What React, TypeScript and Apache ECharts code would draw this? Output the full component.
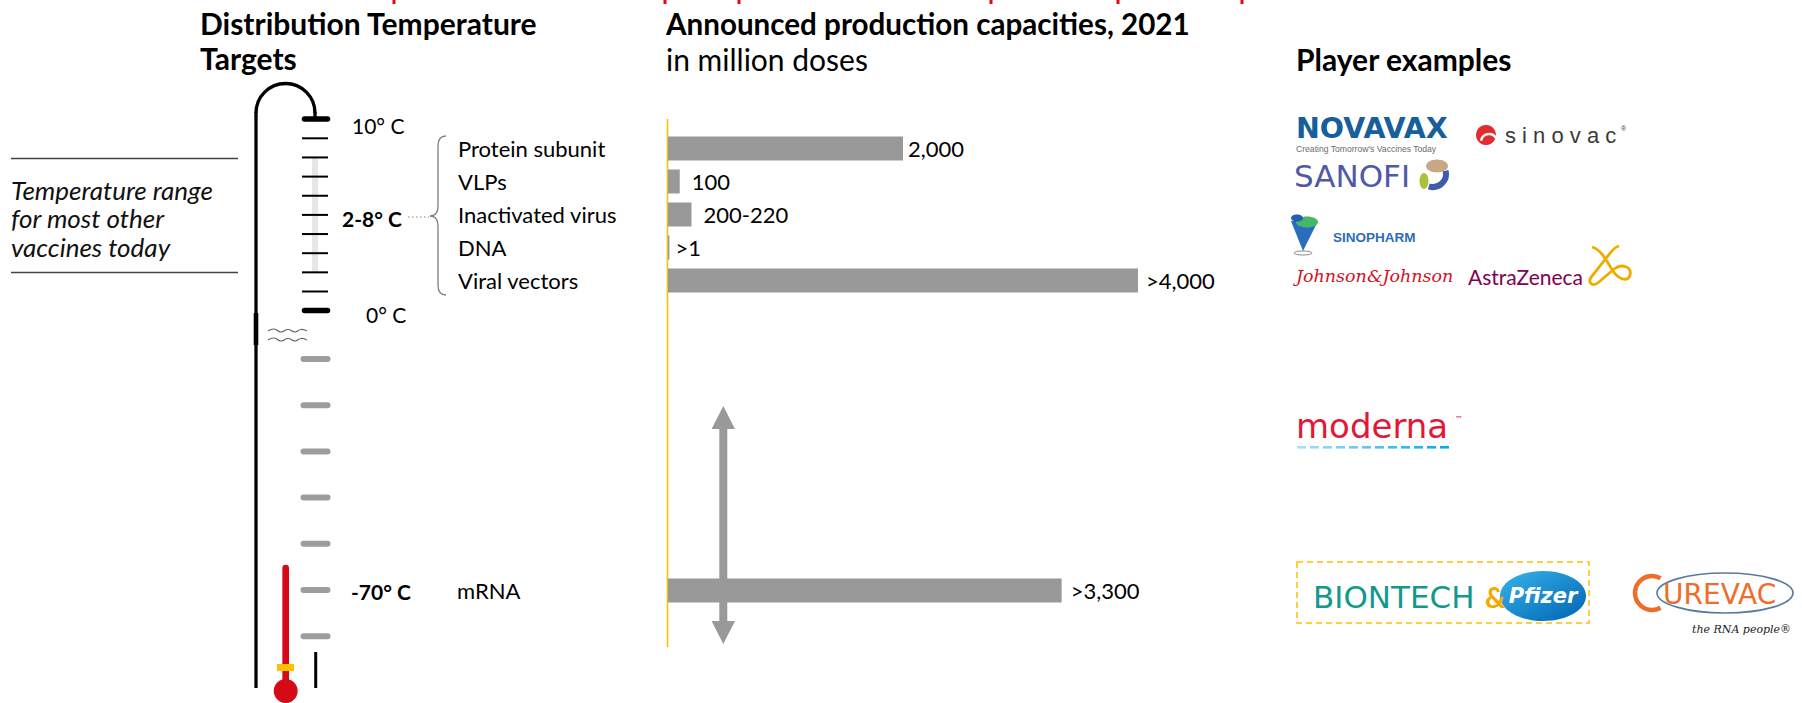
import React, { useEffect, useRef } from "react";
import * as echarts from "echarts";

// ---------- data ----------
const topCategories = ["Protein subunit", "VLPs", "Inactivated virus", "DNA", "Viral vectors"];
const topValues = [2000, 100, 200, 12, 4000];
const topLabels = ["2,000", "100", "200-220", ">1", ">4,000"];
const bottomCategories = ["mRNA"];
const bottomValues = [3350];
const bottomLabels = [">3,300"];
const tempLabels = ["10° C", "2-8° C", "0° C", "-70° C"];
const noteLines = ["Temperature range", "for most other", "vaccines today"];
const headings = ["Distribution Temperature", "Targets", "Announced production capacities, 2021", "in million doses", "Player examples"];

// ---------- shapes ----------
echarts.graphic.registerShape(
  "brace",
  echarts.graphic.extendPath(
    "M446 136 Q438 136 438 146 L438 206 Q438 216 430 216 Q438 216 438 226 L438 285 Q438 295 446 295",
    {}
  )
);
echarts.graphic.registerShape(
  "azlogo",
  echarts.graphic.extendPath(
    "M1600 247 C1610 250 1615 262 1621 271 C1627 280 1636 282 1638 275 C1640 267 1630 263 1622 269 L1607 282 C1600 288 1595 282 1600 276 L1615 257 C1619 252 1622 247 1627 246",
    {}
  )
);

const FONT = "Lato, 'Open Sans', sans-serif";

function ln(x1: number, y1: number, x2: number, y2: number, stroke: any, lineWidth: number, extra: any = {}) {
  return {
    type: "line",
    silent: true,
    shape: { x1, y1, x2, y2 },
    style: { stroke, lineWidth, lineCap: extra.lineCap || "butt", lineDash: extra.lineDash },
    z: extra.z ?? 1,
  };
}

function tx(x: number, y: number, text: string, opts: any = {}) {
  const align = opts.align || "left";
  const va = opts.va || "middle";
  return {
    type: "text",
    silent: true,
    x,
    y,
    z: opts.z ?? 5,
    style: {
      text,
      fill: opts.color || "#000",
      fontSize: opts.size || 20,
      fontFamily: opts.family || FONT,
      fontWeight: opts.weight || "normal",
      fontStyle: opts.italic ? "italic" : "normal",
      align,
      verticalAlign: va,
      textAlign: align,
      textVerticalAlign: va,
    },
  };
}

function mixColor(a: number[], b: number[], t: number) {
  const c = a.map((v, i) => Math.round(v + (b[i] - v) * t));
  return `rgb(${c[0]},${c[1]},${c[2]})`;
}

function buildGraphics() {
  const g: any[] = [];

  // cut-off red headline fragments at top
  [394, 665, 739, 991, 1118, 1242].forEach((x) => {
    g.push({ type: "rect", silent: true, shape: { x: x - 1.5, y: 0, width: 3, height: 4 }, style: { fill: "#e30613" } });
  });

  // headings
  g.push(tx(200, 23, headings[0], { size: 30, weight: "bold" }));
  g.push(tx(200, 58, headings[1], { size: 30, weight: "bold" }));
  g.push(tx(666, 23, headings[2], { size: 29.6, weight: "bold" }));
  g.push(tx(666, 59, headings[3], { size: 30 }));
  g.push(tx(1296, 59, headings[4], { size: 30, weight: "bold" }));

  // left note
  g.push(ln(11, 158.5, 238, 158.5, "#444", 1.3));
  g.push(ln(11, 272.5, 238, 272.5, "#444", 1.3));
  noteLines.forEach((t, i) => g.push(tx(11, 190 + i * 28.4, t, { size: 26, italic: true, color: "#111" })));

  // thermometer body
  g.push({
    type: "arc",
    silent: true,
    shape: { cx: 285.5, cy: 113, r: 29.5, startAngle: Math.PI, endAngle: Math.PI * 2, clockwise: true },
    style: { stroke: "#000", lineWidth: 3.3, fill: "none" },
  });
  g.push(ln(256, 112, 256, 688, "#000", 3.3));
  g.push(ln(256, 313, 256, 345, "#000", 4.6));
  g.push(ln(315, 112, 315, 117, "#000", 3.3));
  g.push({ type: "rect", silent: true, shape: { x: 312, y: 157, width: 6, height: 115 }, style: { fill: "#e6e6e6" } });
  for (let k = 0; k < 9; k++) {
    const y = 138.3 + k * 19.15;
    g.push(ln(302, y, 328, y, "#000", 2));
  }
  g.push(ln(304.5, 119, 327.5, 119, "#000", 5.5, { lineCap: "round" }));
  g.push(ln(304.5, 310.5, 327.5, 310.5, "#000", 5.5, { lineCap: "round" }));
  for (let k = 0; k < 7; k++) {
    const y = 359 + k * 46.2;
    g.push(ln(303.5, y, 327.5, y, "#9d9d9d", 6, { lineCap: "round" }));
  }
  // break marks
  [331, 340].forEach((y) => {
    g.push({
      type: "polyline",
      silent: true,
      shape: {
        points: [[268, y], [274, y - 2], [281, y + 1], [288, y - 1.5], [295, y + 1], [301, y - 1.5], [307, y]],
        smooth: 0.5,
      },
      style: { stroke: "#666", lineWidth: 1.2, fill: "none" },
    });
  });
  // mercury
  g.push(ln(285.7, 568, 285.7, 690, "#d40b17", 6.7, { lineCap: "round" }));
  g.push({ type: "circle", silent: true, shape: { cx: 285.7, cy: 691, r: 12 }, style: { fill: "#d40b17" } });
  g.push({ type: "rect", silent: true, shape: { x: 277, y: 664, width: 17, height: 7 }, style: { fill: "#ffc000" }, z: 3 });
  g.push(ln(315.7, 652, 315.7, 688, "#000", 3));

  // temperature labels
  g.push(tx(352, 125, tempLabels[0], { size: 21 }));
  g.push(tx(342, 218, tempLabels[1], { size: 21, weight: "bold" }));
  g.push(tx(366, 314, tempLabels[2], { size: 21 }));
  g.push(tx(351, 591, tempLabels[3], { size: 21, weight: "bold" }));
  g.push(ln(408, 217, 429, 217, "#888", 1.2, { lineDash: [1.5, 2.5] }));

  // brace
  g.push({ type: "brace", silent: true, x: 0, y: 0, style: { stroke: "#7f7f7f", lineWidth: 1.3, fill: "none" } });

  // yellow axis line
  g.push(ln(667.5, 119, 667.5, 647, "#ffc000", 1.6));

  // double arrow
  g.push({ type: "rect", silent: true, z: 10, shape: { x: 719.3, y: 428, width: 8, height: 194 }, style: { fill: "#999" } });
  g.push({ type: "polygon", silent: true, z: 10, shape: { points: [[723.3, 406], [735, 429], [711.6, 429]] }, style: { fill: "#999" } });
  g.push({ type: "polygon", silent: true, z: 10, shape: { points: [[723.3, 644], [735, 621], [711.6, 621]] }, style: { fill: "#999" } });

  // ---------- logos ----------
  // NOVAVAX
  g.push(tx(1296, 128, "NOVAVAX", { size: 28.5, weight: "bold", family: "'DejaVu Sans', sans-serif", color: "#175e9c" }));
  g.push(tx(1296, 149, "Creating Tomorrow's Vaccines Today", { size: 8.6, family: "'Liberation Sans', sans-serif", color: "#6b6b6b" }));
  // SANOFI
  g.push(tx(1294, 176, "SANOFI", { size: 31, family: "'DejaVu Sans', sans-serif", color: "#4f5aa6" }));
  g.push({ type: "ellipse", silent: true, shape: { cx: 1437, cy: 166, rx: 11, ry: 6.5 }, style: { fill: "#c9a985" } });
  g.push({ type: "ellipse", silent: true, shape: { cx: 1424, cy: 181, rx: 4.5, ry: 8 }, style: { fill: "#a9c13c" } });
  g.push({
    type: "arc",
    silent: true,
    shape: { cx: 1433, cy: 174, r: 13, startAngle: -0.25, endAngle: 1.9, clockwise: true },
    style: { stroke: "#3f5ca9", lineWidth: 6, fill: "none" },
  });
  // sinovac
  g.push({ type: "circle", silent: true, shape: { cx: 1486, cy: 135, r: 10 }, style: { fill: "#e42b2e" } });
  g.push({
    type: "arc",
    silent: true,
    shape: { cx: 1489, cy: 142, r: 8, startAngle: Math.PI * 1.05, endAngle: Math.PI * 1.85, clockwise: true },
    style: { stroke: "#fff", lineWidth: 2.4, fill: "none" },
  });
  g.push(tx(1505, 135, "s i n o v a c", { size: 22, family: "'Liberation Sans', sans-serif", color: "#3a3a3a" }));
  g.push(tx(1621, 128, "®", { size: 7, family: "'Liberation Sans', sans-serif", color: "#3a3a3a" }));
  // SINOPHARM
  g.push({ type: "polygon", silent: true, shape: { points: [[1291, 221], [1318, 221], [1303, 251]] }, style: { fill: "#2a6cc0" } });
  g.push({ type: "ellipse", silent: true, shape: { cx: 1307, cy: 222, rx: 11, ry: 5.5 }, style: { fill: "#44b866" } });
  g.push({ type: "ellipse", silent: true, shape: { cx: 1297, cy: 218, rx: 6, ry: 3.5 }, style: { fill: "#1f5fb5" } });
  g.push({ type: "ellipse", silent: true, shape: { cx: 1303, cy: 253, rx: 9, ry: 2 }, style: { fill: "none", stroke: "#888", lineWidth: 1 } });
  g.push(tx(1333, 237, "SINOPHARM", { size: 13.5, weight: "bold", family: "'Liberation Sans', sans-serif", color: "#2f6db5" }));
  // Johnson & Johnson
  g.push(tx(1296, 276, "Johnson&Johnson", { size: 17.5, italic: true, family: "'DejaVu Serif', serif", color: "#d2121e" }));
  // AstraZeneca
  g.push(tx(1468, 276, "AstraZeneca", { size: 21, family: FONT, color: "#830051" }));
  g.push({ type: "azlogo", silent: true, x: -8, y: 0, style: { stroke: "#f0ab00", lineWidth: 2.8, fill: "none" } });
  // moderna
  g.push(tx(1296, 426, "moderna", { size: 34, family: "'DejaVu Sans', sans-serif", color: "#e31837" }));
  g.push(tx(1455, 419, "™", { size: 8, family: "'DejaVu Sans', sans-serif", color: "#e31837" }));
  const c0 = [169, 221, 245];
  const c1 = [0, 174, 239];
  for (let k = 0; k < 12; k++) {
    g.push({
      type: "rect",
      silent: true,
      shape: { x: 1297 + k * 13, y: 446, width: 9, height: 2.6 },
      style: { fill: mixColor(c0, c1, k / 11) },
    });
  }
  // BioNTech & Pfizer
  g.push({
    type: "rect",
    silent: true,
    shape: { x: 1297, y: 562, width: 292, height: 61 },
    style: { fill: "none", stroke: "#ffc000", lineWidth: 1.5, lineDash: [6, 4] },
  });
  g.push(tx(1313, 597, "BIONTECH", { size: 31, family: "'DejaVu Sans', sans-serif", color: "#13998c" }));
  g.push(tx(1485, 597, "&", { size: 28, weight: "bold", family: FONT, color: "#f5a800" }));
  g.push({
    type: "ellipse",
    silent: true,
    shape: { cx: 1543, cy: 596, rx: 43, ry: 25 },
    style: {
      fill: new echarts.graphic.LinearGradient(0, 0, 1, 1, [
        { offset: 0, color: "#36b4ea" },
        { offset: 1, color: "#0063b1" },
      ]),
    },
  });
  g.push(tx(1543, 596, "Pfizer", { size: 21, weight: "bold", italic: true, family: "'DejaVu Sans', sans-serif", color: "#fff", align: "center" }));
  // CureVac
  g.push({
    type: "ellipse",
    silent: true,
    shape: { cx: 1725, cy: 593, rx: 68, ry: 20 },
    style: { fill: "none", stroke: "#5a7aa0", lineWidth: 1.6 },
  });
  g.push({
    type: "arc",
    silent: true,
    shape: { cx: 1652, cy: 593, r: 17, startAngle: Math.PI / 3, endAngle: (Math.PI * 5) / 3, clockwise: true },
    style: { stroke: "#ee6d2b", lineWidth: 4.5, fill: "none" },
  });
  g.push(tx(1663, 594, "UREVAC", { size: 28, family: "'DejaVu Sans', sans-serif", color: "#ee6d2b" }));
  g.push(tx(1692, 629, "the RNA people®", { size: 11, italic: true, family: "'DejaVu Serif', serif", color: "#222" }));

  return g;
}

export default function App() {
  const ref = useRef<HTMLDivElement>(null);
  useEffect(() => {
    if (!ref.current) return;
    const chart = echarts.init(ref.current, undefined, { renderer: "svg" });
    const xMax = 4500;
    const gridLeft = 668;
    const gridWidth = xMax * 0.1175;
    const catStyle = { fontSize: 22, color: "#000", fontFamily: FONT };
    const valStyle = { fontSize: 22, color: "#000", fontFamily: FONT };
    const topDist = [5, 12, 12, 6, 8];
    chart.setOption({
      animation: false,
      textStyle: { fontFamily: FONT },
      grid: [
        { left: gridLeft, top: 132, width: gridWidth, height: 165 },
        { left: gridLeft, top: 574, width: gridWidth, height: 33 },
      ],
      xAxis: [
        { type: "value", gridIndex: 0, min: 0, max: xMax, show: false },
        { type: "value", gridIndex: 1, min: 0, max: xMax, show: false },
      ],
      yAxis: [
        {
          type: "category",
          gridIndex: 0,
          inverse: true,
          data: topCategories,
          axisLine: { show: false },
          axisTick: { show: false },
          axisLabel: { margin: 210, align: "left", ...catStyle },
        },
        {
          type: "category",
          gridIndex: 1,
          inverse: true,
          data: bottomCategories,
          axisLine: { show: false },
          axisTick: { show: false },
          axisLabel: { margin: 211, align: "left", ...catStyle },
        },
      ],
      series: [
        {
          type: "bar",
          xAxisIndex: 0,
          yAxisIndex: 0,
          barWidth: 24,
          silent: true,
          itemStyle: { color: "#999999" },
          data: topValues.map((v, i) => ({
            value: v,
            label: {
              show: true,
              position: "right",
              distance: topDist[i],
              formatter: () => topLabels[i],
              ...valStyle,
            },
          })),
        },
        {
          type: "bar",
          xAxisIndex: 1,
          yAxisIndex: 1,
          barWidth: 24,
          silent: true,
          itemStyle: { color: "#999999" },
          data: bottomValues.map((v, i) => ({
            value: v,
            label: {
              show: true,
              position: "right",
              distance: 9,
              formatter: () => bottomLabels[i],
              ...valStyle,
            },
          })),
        },
      ],
      graphic: { elements: buildGraphics() },
    });
    return () => chart.dispose();
  }, []);
  return (
    <div
      ref={ref}
      style={{ position: "absolute", left: 0, top: 0, width: 1802, height: 703, background: "#fff" }}
    />
  );
}
